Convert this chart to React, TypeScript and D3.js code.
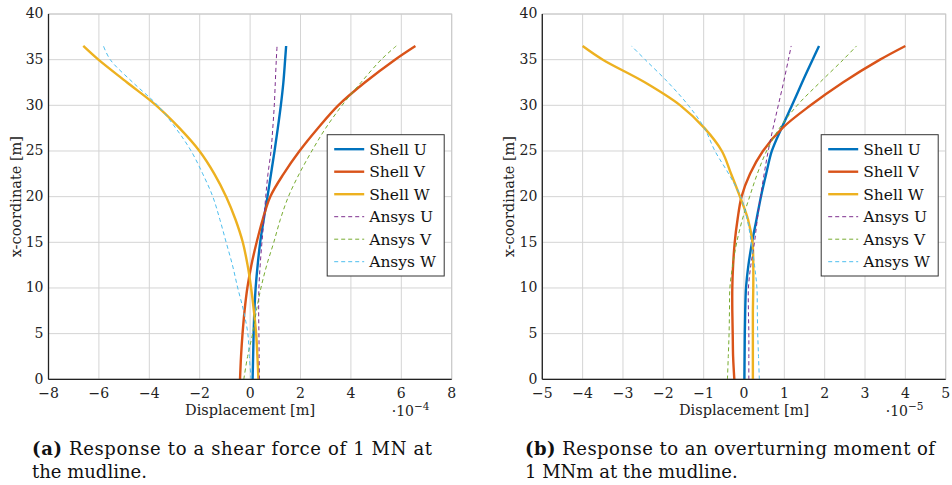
import React from "react";
import * as d3 from "d3";

// depth along the pile (x-coordinate [m]), shared by every series
const depth = [0, 2.5, 5, 7.5, 10, 12.5, 15, 17.5, 20, 22.5, 25, 27.5, 30, 32.5, 35, 36.5];

// (a) shear force, displacement in 1e-4 m
const shearShellU = [0.1, 0.12, 0.14, 0.17, 0.22, 0.3, 0.4, 0.54, 0.69, 0.83, 0.97, 1.1, 1.22, 1.32, 1.39, 1.43];
const shearShellV = [-0.4, -0.36, -0.3, -0.22, -0.11, 0.05, 0.26, 0.5, 0.8, 1.33, 1.96, 2.69, 3.5, 4.55, 5.75, 6.56];
const shearShellW = [0.33, 0.29, 0.24, 0.15, 0.04, -0.1, -0.29, -0.58, -0.95, -1.42, -2.01, -2.8, -3.73, -4.88, -6.02, -6.62];
const shearAnsysU = [0.37, 0.36, 0.35, 0.34, 0.35, 0.4, 0.47, 0.55, 0.62, 0.71, 0.83, 0.9, 0.96, 1.0, 1.04, 1.07];
const shearAnsysV = [-0.25, -0.1, 0.1, 0.25, 0.43, 0.66, 0.94, 1.2, 1.52, 1.95, 2.45, 3.0, 3.65, 4.4, 5.2, 5.8];
const shearAnsysW = [0.04, -0.03, -0.09, -0.26, -0.49, -0.7, -0.95, -1.2, -1.48, -1.88, -2.34, -2.95, -3.67, -4.65, -5.55, -5.82];

// (b) overturning moment, displacement in 1e-5 m
const momentShellU = [0.01, 0.015, 0.02, 0.03, 0.05, 0.11, 0.2, 0.31, 0.42, 0.55, 0.69, 0.93, 1.19, 1.44, 1.7, 1.86];
const momentShellV = [-0.24, -0.27, -0.28, -0.29, -0.29, -0.27, -0.23, -0.16, -0.06, 0.15, 0.47, 0.95, 1.65, 2.45, 3.37, 4.0];
const momentShellW = [0.22, 0.22, 0.22, 0.22, 0.23, 0.23, 0.21, 0.1, -0.1, -0.32, -0.55, -0.98, -1.58, -2.45, -3.5, -4.0];
const momentAnsysU = [0.12, 0.12, 0.12, 0.11, 0.11, 0.17, 0.26, 0.33, 0.41, 0.5, 0.6, 0.72, 0.85, 0.98, 1.1, 1.17];
const momentAnsysV = [-0.41, -0.39, -0.37, -0.36, -0.35, -0.28, -0.18, -0.04, 0.14, 0.33, 0.56, 0.88, 1.32, 1.88, 2.46, 2.79];
const momentAnsysW = [0.38, 0.36, 0.34, 0.33, 0.32, 0.26, 0.18, 0.08, -0.08, -0.38, -0.72, -0.98, -1.38, -1.88, -2.45, -2.79];

const seriesNames = ["Shell U", "Shell V", "Shell W", "Ansys U", "Ansys V", "Ansys W"];
const seriesColors = ["#0072BD", "#D95319", "#EDB120", "#7E2F8E", "#77AC30", "#4DBEEE"];

const shearTicks = [-8, -6, -4, -2, 0, 2, 4, 6, 8];
const momentTicks = [-5, -4, -3, -2, -1, 0, 1, 2, 3, 4, 5];
const depthTicks = [0, 5, 10, 15, 20, 25, 30, 35, 40];

const font = "DejaVu Serif";

function fmt(v) {
  return v < 0 ? "\u2212" + Math.abs(v) : String(v);
}

function Panel({ left, right, xTicks, series, exponent, caption, captionRest }) {
  const top = 14;
  const bottom = 379.3;
  const x = d3.scaleLinear().domain([xTicks[0], xTicks[xTicks.length - 1]]).range([left, right]);
  const y = d3.scaleLinear().domain([0, 40]).range([bottom, top]);
  const line = d3
    .line()
    .x((d) => x(d[0]))
    .y((d) => y(d[1]))
    .curve(d3.curveCatmullRom.alpha(0.5));

  const legX = right - 124.5;
  const legY = 134.7;

  return (
    <g>
      {/* grid */}
      {xTicks.map((t) => (
        <line key={"gx" + t} x1={x(t)} x2={x(t)} y1={top} y2={bottom} stroke="#d4d4d4" strokeWidth={1} />
      ))}
      {depthTicks.map((t) => (
        <line key={"gy" + t} x1={left} x2={right} y1={y(t)} y2={y(t)} stroke="#d4d4d4" strokeWidth={1} />
      ))}
      <rect x={left} y={top} width={right - left} height={bottom - top} fill="none" stroke="#c8c8c8" />

      {/* curves */}
      {series.map((vals, i) => (
        <path
          key={"s" + i}
          d={line(vals.map((v, j) => [v, depth[j]]))}
          fill="none"
          stroke={seriesColors[i]}
          strokeWidth={i < 3 ? 2.4 : 1}
          strokeDasharray={i < 3 ? null : "4 3"}
        />
      ))}

      {/* axes */}
      <line x1={left} x2={left} y1={top} y2={bottom} stroke="#222" strokeWidth={1.3} />
      <line x1={left} x2={right} y1={bottom} y2={bottom} stroke="#222" strokeWidth={1.3} />

      {depthTicks.map((t) => (
        <text key={"ty" + t} x={left - 5} y={y(t)} dy="0.3em" textAnchor="end" fontFamily={font} fontSize={14} fill="#222">
          {t}
        </text>
      ))}
      {xTicks.map((t) => (
        <text key={"tx" + t} x={x(t)} y={398} textAnchor="middle" fontFamily={font} fontSize={14} fill="#222">
          {fmt(t)}
        </text>
      ))}

      <text
        transform={`translate(${left - 33},${(top + bottom) / 2}) rotate(-90)`}
        textAnchor="middle"
        dy="0.35em"
        fontFamily={font}
        fontSize={14.5}
        fill="#222"
      >
        x-coordinate [m]
      </text>
      <text x={x(0)} y={415} textAnchor="middle" fontFamily={font} fontSize={14.5} fill="#222">
        Displacement [m]
      </text>
      <text x={right - 60} y={416} fontFamily={font} fontSize={14} fill="#222">
        ·10
        <tspan dy={-6} fontSize={10.5}>
          {"\u2212" + exponent}
        </tspan>
      </text>

      {/* legend */}
      <rect x={legX} y={legY} width={117} height={141.3} fill="white" stroke="#333" strokeWidth={1} />
      {seriesNames.map((name, i) => {
        const ry = legY + 14.5 + i * 22.5;
        return (
          <g key={"l" + i}>
            <line
              x1={legX + 7}
              x2={legX + 37}
              y1={ry}
              y2={ry}
              stroke={seriesColors[i]}
              strokeWidth={i < 3 ? 2.4 : 1}
              strokeDasharray={i < 3 ? null : "4 3"}
            />
            <text x={legX + 42} y={ry} dy="0.35em" fontFamily={font} fontSize={15.5} fill="#111">
              {name}
            </text>
          </g>
        );
      })}

      {/* caption */}
      <text x={caption.x} y={455} fontFamily={font} fontSize={18} fill="#111" textLength={caption.w} lengthAdjust="spacing">
        <tspan fontWeight="bold">{caption.label}</tspan> {caption.text}
      </text>
      <text x={caption.x} y={478} fontFamily={font} fontSize={18} fill="#111">
        {captionRest}
      </text>
    </g>
  );
}

export default function App() {
  return (
    <svg width={952} height={485} style={{ position: "absolute", left: 0, top: 0, background: "white" }}>
      <Panel
        left={48.5}
        right={451.7}
        xTicks={shearTicks}
        series={[shearShellU, shearShellV, shearShellW, shearAnsysU, shearAnsysV, shearAnsysW]}
        exponent="4"
        caption={{ x: 32, w: 400, label: "(a)", text: "Response to a shear force of 1 MN at" }}
        captionRest="the mudline."
      />
      <Panel
        left={542.3}
        right={945.7}
        xTicks={momentTicks}
        series={[momentShellU, momentShellV, momentShellW, momentAnsysU, momentAnsysV, momentAnsysW]}
        exponent="5"
        caption={{ x: 525, w: 410, label: "(b)", text: "Response to an overturning moment of" }}
        captionRest="1 MNm at the mudline."
      />
    </svg>
  );
}
